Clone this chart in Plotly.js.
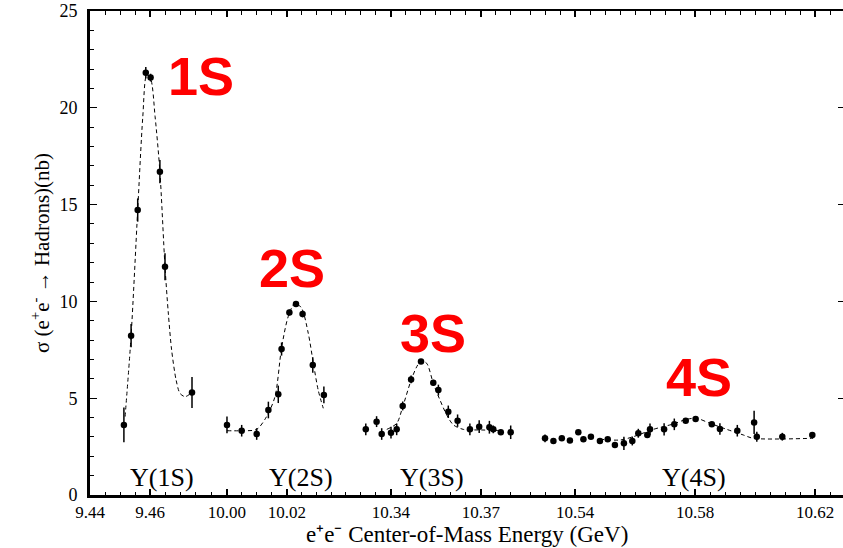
<!DOCTYPE html>
<html><head><meta charset="utf-8">
<script src="https://cdn.plot.ly/plotly-3.0.1.min.js"></script>
<style>html,body{margin:0;padding:0;background:#fff}</style>
</head><body><div id="chart" style="width:843px;height:548px"></div>
<script>
// ---- data: Upsilon(1S) ----
const x1S = [9.4513, 9.4537, 9.4559, 9.4586, 9.4602, 9.4633, 9.4650, 9.4740];
const y1S = [3.62, 8.23, 14.72, 21.81, 21.56, 16.70, 11.79, 5.30];
const e1S = [0.9, 0.6, 0.6, 0.3, 0.2, 0.6, 0.7, 0.8];
const fit1Sx = [9.4517, 9.4537, 9.4559, 9.4576, 9.4589, 9.4602, 9.4617, 9.4633, 9.4650, 9.4661, 9.4672, 9.4687, 9.4700, 9.4717, 9.4740];
const fit1Sy = [4.05, 8.23, 14.72, 19.54, 21.69, 21.50, 19.54, 16.70, 11.79, 9.40, 7.50, 5.94, 5.25, 5.08, 5.30];
// ---- data: Upsilon(2S) ----
const x2S = [10.0000, 10.0049, 10.0099, 10.0138, 10.0171, 10.0182, 10.0208, 10.0230, 10.0252, 10.0286, 10.0323];
const y2S = [3.62, 3.32, 3.15, 4.39, 5.20, 7.54, 9.43, 9.87, 9.35, 6.71, 5.17];
const e2S = [0.43, 0.3, 0.3, 0.43, 0.45, 0.34, 0.15, 0.1, 0.17, 0.4, 0.43];
const fit2Sx = [10.0000, 10.0049, 10.0099, 10.0132, 10.0160, 10.0182, 10.0204, 10.0227, 10.0249, 10.0271, 10.0288, 10.0304, 10.0321];
const fit2Sy = [3.32, 3.32, 3.39, 4.05, 5.08, 7.60, 9.21, 9.93, 9.64, 8.35, 6.80, 5.42, 4.48];
// ---- data: Upsilon(3S) ----
const x3S = [10.3316, 10.3352, 10.3369, 10.3400, 10.3419, 10.3439, 10.3467, 10.3500, 10.3541, 10.3558, 10.3591, 10.3622, 10.3663, 10.3694, 10.3728, 10.3741, 10.3766, 10.3799];
const y3S = [3.39, 3.79, 3.15, 3.22, 3.39, 4.60, 5.97, 6.89, 5.80, 5.42, 4.30, 3.84, 3.39, 3.53, 3.50, 3.39, 3.24, 3.24];
const e3S = [0.3, 0.28, 0.3, 0.3, 0.3, 0.23, 0.2, 0.1, 0.15, 0.28, 0.32, 0.32, 0.3, 0.33, 0.33, 0.2, 0.1, 0.35];
const fit3Sx = [10.3386, 10.3419, 10.3439, 10.3467, 10.3486, 10.3500, 10.3519, 10.3541, 10.3561, 10.3586, 10.3608, 10.3641, 10.3700, 10.3766];
const fit3Sy = [3.39, 3.70, 4.55, 5.93, 6.63, 6.93, 6.80, 5.77, 4.99, 4.13, 3.62, 3.39, 3.36, 3.33];
// ---- data: Upsilon(4S) ----
const x4S = [10.5300, 10.5328, 10.5356, 10.5383, 10.5411, 10.5428, 10.5453, 10.5483, 10.5509, 10.5533, 10.5563, 10.5591, 10.5611, 10.5641, 10.5650, 10.5697, 10.5731, 10.5769, 10.5802, 10.5856, 10.5883, 10.5941, 10.5997, 10.6006, 10.6091, 10.6191];
const y4S = [2.93, 2.79, 2.93, 2.81, 3.24, 2.88, 3.01, 2.79, 2.88, 2.58, 2.67, 2.79, 3.19, 3.10, 3.39, 3.39, 3.65, 3.84, 3.93, 3.65, 3.41, 3.32, 3.75, 3.01, 3.01, 3.10];
const e4S = [0.2, 0.1, 0.1, 0.1, 0.1, 0.1, 0.1, 0.1, 0.1, 0.1, 0.34, 0.23, 0.23, 0.15, 0.3, 0.32, 0.3, 0.1, 0.1, 0.1, 0.3, 0.3, 0.6, 0.26, 0.2, 0.1];
const fit4Sx = [10.5483, 10.5550, 10.5594, 10.5661, 10.5728, 10.5772, 10.5806, 10.5850, 10.5906, 10.5961, 10.5994, 10.6194];
const fit4Sy = [2.88, 2.84, 3.01, 3.39, 3.67, 3.91, 3.96, 3.70, 3.39, 3.10, 2.93, 2.93];
// ---- axis segments and labels ----
const segRanges = [[9.44, 9.47833], [9.99267, 10.03767], [10.323, 10.38467], [10.52333, 10.62933]];
const segTicks = [[9.44, 9.46], [10.00, 10.02], [10.34, 10.37], [10.54, 10.58, 10.62]];
const peakLabels = ['1S', '2S', '3S', '4S'];
const peakLabelX = [9.4770, 10.0217, 10.3540, 10.5813];
const peakLabelY = [21.64, 11.72, 8.37, 6.09];
const stateLabels = ['Υ(1S)', 'Υ(2S)', 'Υ(3S)', 'Υ(4S)'];
const stateLabelX = [9.4640, 10.0247, 10.3537, 10.5797];
const stateLabelY = 0.93;
const yTicks = [0, 5, 10, 15, 20, 25];

const SERIF = 'Liberation Serif';
const SANS = 'Liberation Sans';

const sets = [
  [x1S, y1S, e1S, fit1Sx, fit1Sy],
  [x2S, y2S, e2S, fit2Sx, fit2Sy],
  [x3S, y3S, e3S, fit3Sx, fit3Sy],
  [x4S, y4S, e4S, fit4Sx, fit4Sy]
];
const axName = i => (i === 0 ? 'x' : 'x' + (i + 1));
const traces = [];
sets.forEach((s, i) => {
  traces.push({x: s[3], y: s[4], xaxis: axName(i), yaxis: 'y', mode: 'lines',
    line: {color: '#000', width: 1, dash: '4px,3px', shape: 'spline', smoothing: 0.8},
    hoverinfo: 'skip', showlegend: false});
  traces.push({x: s[0], y: s[1], xaxis: axName(i), yaxis: 'y', mode: 'markers',
    marker: {color: '#000', size: 6.5, symbol: 'circle'},
    error_y: {type: 'data', array: s[2], visible: true, color: '#000', thickness: 1.5, width: 0},
    error_x: {type: 'constant', value: 0.0008, visible: true, color: '#000', thickness: 1.5, width: 0},
    showlegend: false});
});
traces.push({x: [], y: [], xaxis: 'x4', yaxis: 'y2', showlegend: false});

const total = segRanges.reduce((a, r) => a + (r[1] - r[0]), 0);
const layout = {
  width: 843, height: 548,
  font: {family: SERIF, color: '#000'},
  margin: {l: 90, r: 0, t: 11, b: 53, pad: 0},
  paper_bgcolor: '#fff', plot_bgcolor: '#fff',
  showlegend: false,
  yaxis: {range: [0, 25], anchor: 'x', showline: true, linewidth: 3, linecolor: '#000',
    ticks: 'inside', ticklen: 7, tickwidth: 1.2, tickcolor: '#000', tickvals: yTicks,
    tickfont: {family: SERIF, size: 18, color: '#000'}, ticklabelstandoff: 6,
    minor: {ticks: 'inside', ticklen: 4, tickwidth: 1, dtick: 1, tick0: 0, tickcolor: '#000'},
    showgrid: false, zeroline: false},
  yaxis2: {range: [0, 25], overlaying: 'y', anchor: 'x4', side: 'right', showline: false,
    ticks: 'inside', ticklen: 5, tickwidth: 1.2, tickcolor: '#000', tickvals: [5, 10, 15, 20],
    showticklabels: false, showgrid: false, zeroline: false},
  annotations: []
};
let acc = 0;
segRanges.forEach((r, i) => {
  const d0 = acc / total; acc += r[1] - r[0]; const d1 = acc / total;
  layout[i === 0 ? 'xaxis' : 'xaxis' + (i + 1)] = {
    domain: [d0, Math.min(1, d1)], range: r, anchor: 'y',
    showline: true, linewidth: 2.5, linecolor: '#000', mirror: 'ticks',
    ticks: 'inside', ticklen: 6, tickwidth: 1.2, tickcolor: '#000',
    tickmode: 'array', tickvals: segTicks[i], tickformat: '.2f',
    tickfont: {family: SERIF, size: 17, color: '#000'},
    minor: {ticks: 'inside', ticklen: 3.5, tickwidth: 1, dtick: 0.005, tick0: segTicks[i][0], tickcolor: '#000'},
    showgrid: false, zeroline: false
  };
  layout.annotations.push({xref: axName(i), yref: 'y', x: peakLabelX[i], y: peakLabelY[i],
    text: peakLabels[i], showarrow: false, xanchor: 'center', yanchor: 'middle',
    font: {family: SANS, size: 54, color: '#ff0000', weight: 'bold'}});
  layout.annotations.push({xref: axName(i), yref: 'y', x: stateLabelX[i], y: stateLabelY,
    text: stateLabels[i], showarrow: false, xanchor: 'center', yanchor: 'middle',
    font: {family: SERIF, size: 26, color: '#000'}});
});
layout.annotations.push({xref: 'paper', yref: 'paper', x: 0.5, y: -0.0826,
  text: 'e⁺e⁻ Center-of-Mass Energy (GeV)', showarrow: false,
  xanchor: 'center', yanchor: 'middle', font: {family: SERIF, size: 23, color: '#000'}});
layout.annotations.push({xref: 'paper', yref: 'paper', x: -0.0664, y: 0.5, textangle: -90,
  text: 'σ (e<sup>+</sup>e<sup>-</sup> → Hadrons)(nb)', showarrow: false,
  xanchor: 'center', yanchor: 'middle', font: {family: SERIF, size: 21, color: '#000'}});

Plotly.newPlot('chart', traces, layout, {displayModeBar: false, staticPlot: true});
</script></body></html>
